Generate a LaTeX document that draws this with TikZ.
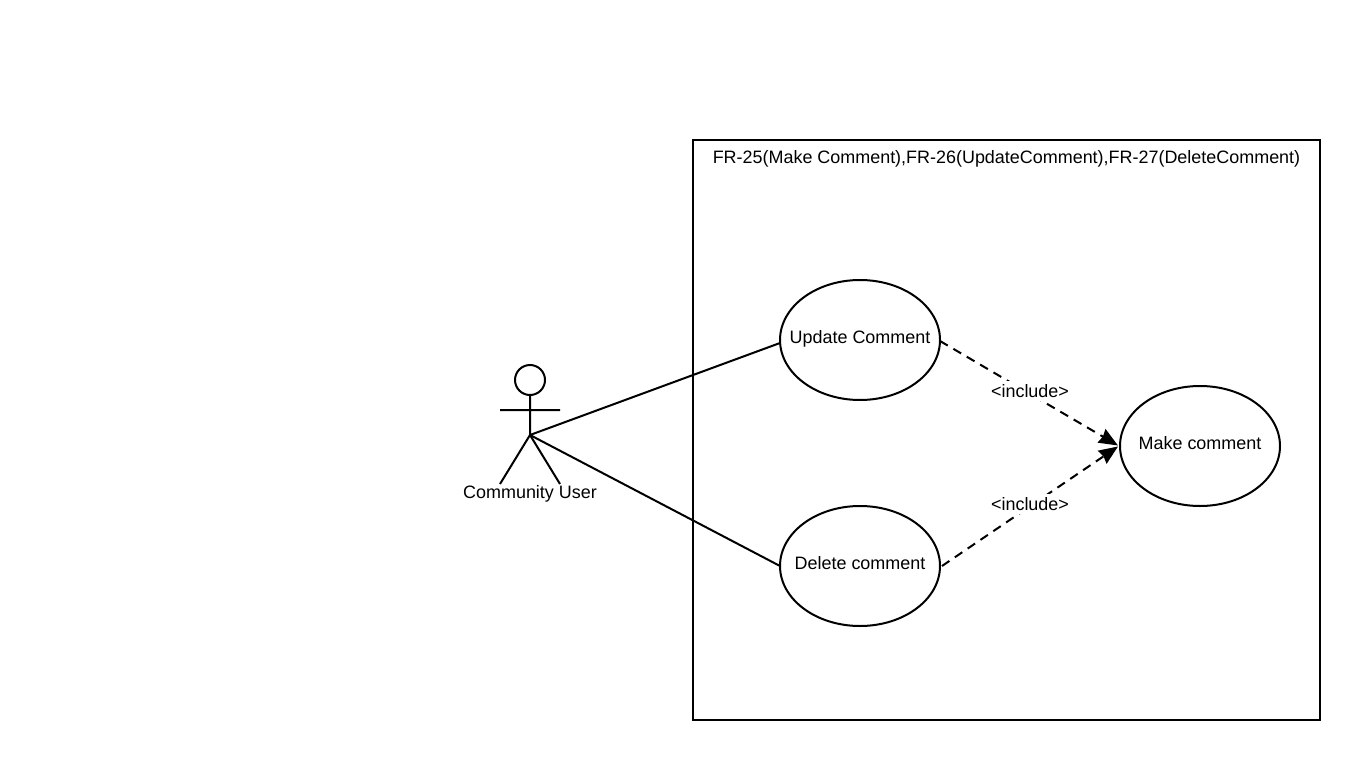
\documentclass[tikz,border=0pt]{standalone}
\usepackage{fontspec}
\setmainfont{Liberation Sans}
\usetikzlibrary{arrows.meta}
\tikzset{
  every node/.style={font=\fontsize{17.95}{21}\selectfont, text=black},
  line/.style={draw=black, line width=2pt},
  incl/.style={line, dash pattern=on 9pt off 6.5pt, -{Stealth[length=19pt,width=15.5pt,inset=1.5pt,sep=0pt]}},
  lbl/.style={fill=white, inner xsep=1pt, inner ysep=3pt},
  ucbox/.style={minimum width=160pt, minimum height=120pt, inner sep=0pt, outer sep=0pt}
}
\begin{document}
\begin{tikzpicture}[x=1pt,y=-1pt]
\useasboundingbox (0,0) rectangle (1360,760);
\fill[white] (0,0) rectangle (1360,760);
\node[line, minimum width=627pt, minimum height=580pt, inner sep=0pt, outer sep=0pt, anchor=north west] (box) at (693,140) {};
\node (title) at (1006.5,159) {FR-25(Make Comment),FR-26(UpdateComment),FR-27(DeleteComment)};
\draw[line] (530,380) circle[radius=15pt];
\coordinate (hip) at (530,435);
\coordinate (neck) at (530,395);
\coordinate (handl) at (500,410);
\coordinate (handr) at (560,410);
\coordinate (footl) at (500,484);
\coordinate (footr) at (560,484);
\draw[line] (neck) -- (hip) (handl) -- (handr) (footl) -- (hip) -- (footr);
\node (actor) at (530,494) {Community User};
\draw[line] (860,340) ellipse[x radius=80pt, y radius=60pt];
\draw[line] (860,566) ellipse[x radius=80pt, y radius=60pt];
\draw[line] (1200,446) ellipse[x radius=80pt, y radius=60pt];
\node[ucbox] (u) at (860,340) {};
\node (ut) at (860,339) {Update Comment};
\node[ucbox] (d) at (860,566) {};
\node (dt) at (860,563) {Delete comment};
\node[ucbox] (m) at (1200,446) {};
\node (mt) at (1200,443) {Make comment};
\draw[line] (hip) -- ([yshift=-3pt]u.west);
\draw[line] (hip) -- (d.west);
\draw[incl] ([yshift=-1pt]u.east) -- ([xshift=-2pt,yshift=0.5pt]m.west);
\draw[incl] ([xshift=2pt]d.east) -- ([xshift=-2pt,yshift=-0.5pt]m.west);
\node[lbl] (i1) at (1030,391) {<include>};
\node[lbl] (i2) at (1030,504) {<include>};
\end{tikzpicture}
\end{document}
